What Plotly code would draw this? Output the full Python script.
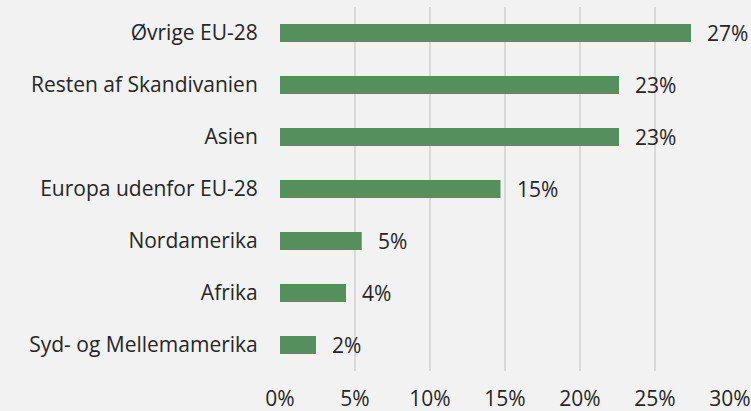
import plotly.graph_objects as go

categories = ["Øvrige EU-28", "Resten af Skandivanien", "Asien", "Europa udenfor EU-28",
              "Nordamerika", "Afrika", "Syd- og Mellemamerika"]
values = [27.4, 22.6, 22.6, 14.7, 5.45, 4.4, 2.4]
tick_vals = [0, 5, 10, 15, 20, 25, 30]
tick_text = ["0%", "5%", "10%", "15%", "20%", "25%", "30%"]

font = "Open Sans"
fs = 21
tc = "#262626"
fig = go.Figure(go.Bar(
    x=values, y=categories, orientation="h",
    marker=dict(color="#558f5d", line=dict(width=0)),
    width=0.35, hoverinfo="skip",
))
for c, v in zip(categories, values):
    fig.add_annotation(x=v, y=c, text=f"{round(v)}%", showarrow=False,
                       xanchor="left", xshift=14,
                       font=dict(family=font, size=fs, color=tc))

fig.update_layout(
    width=751, height=411,
    margin=dict(l=280, r=21, t=7, b=40, autoexpand=False),
    paper_bgcolor="#f2f2f2", plot_bgcolor="#f2f2f2",
    showlegend=False,
    font=dict(family=font, size=fs, color=tc),
)
fig.update_xaxes(range=[0, 30], tickvals=tick_vals, ticktext=tick_text,
                 showgrid=True, gridcolor="#d9d9d9", gridwidth=2, zeroline=False,
                 ticks="outside", ticklen=0, ticklabelstandoff=9, automargin=False,
                 tickfont=dict(family=font, size=fs, color=tc))
fig.update_yaxes(autorange="reversed", showgrid=False, zeroline=False,
                 ticks="outside", ticklen=0, ticklabelstandoff=17, automargin=False,
                 tickfont=dict(family=font, size=fs, color=tc))

fig.write_html("out.html", config={"displayModeBar": False},
               post_script="document.body.style.margin='0px';document.body.style.background='#f2f2f2';")
